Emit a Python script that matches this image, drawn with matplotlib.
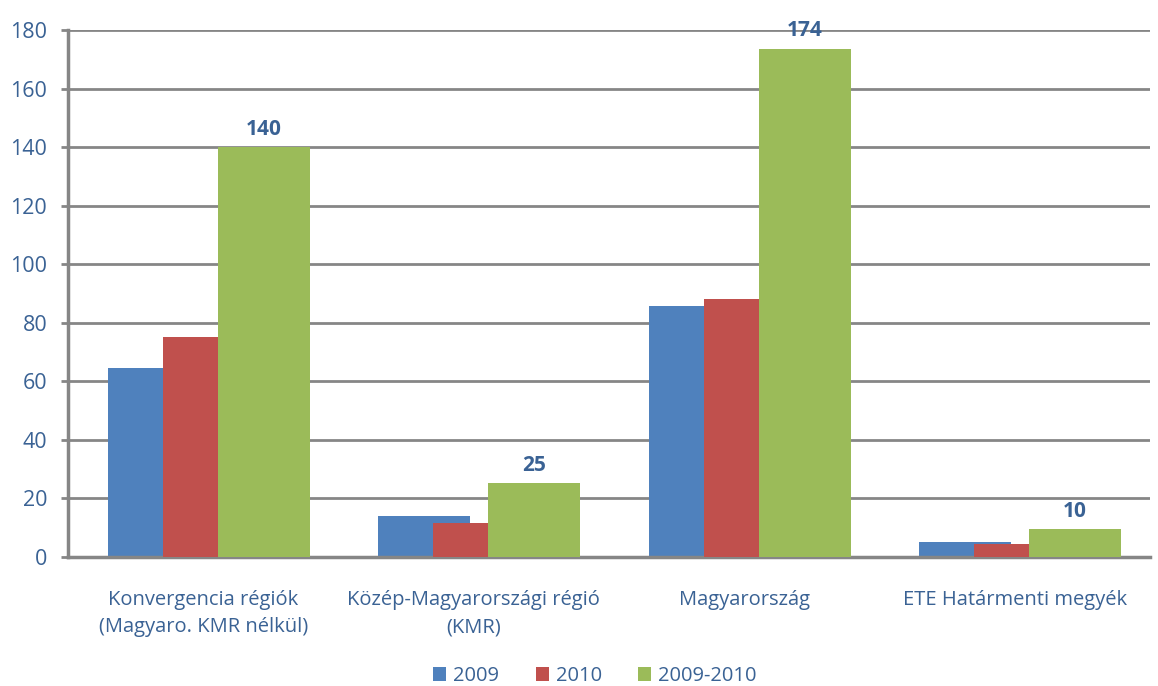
import matplotlib
matplotlib.use("Agg")
import matplotlib.pyplot as plt
import numpy as np

categories = ["Konvergencia régiók\n(Magyaro. KMR nélkül)",
              "Közép-Magyarországi régió\n(KMR)",
              "Magyarország",
              "ETE Határmenti megyék"]
series_names = ["2009", "2010", "2009-2010"]
v2009 = [64.4, 14.0, 85.9, 5.1]
v2010 = [75.0, 11.5, 88.0, 4.6]
v0910 = [140.0, 25.3, 173.6, 9.6]
yticks = [0, 20, 40, 60, 80, 100, 120, 140, 160, 180]

colors = ["#4F81BD", "#C0504D", "#9BBB59"]
txtcol = "#3A6294"
gridcol = "#868686"

plt.rcParams['font.family'] = ['Open Sans', 'DejaVu Sans']

fig = plt.figure(figsize=(11.58, 6.86), dpi=100)
ax = fig.add_axes([68/1158, 1-557/686, (1150-68)/1158, (557-30)/686])

x = np.arange(len(categories))
w = 0.34
step = 0.203
shift = 0.02
data = [v2009, v2010, v0910]
bars = []
for i, (vals, c) in enumerate(zip(data, colors)):
    b = ax.bar(x + shift + (i-1)*step, vals, width=w, color=c, label=series_names[i], zorder=2+i)
    bars.append(b)

for xi, v in zip(x, v0910):
    ax.text(xi + shift + step, v + 2.5, f"{v:.0f}", ha='center', va='bottom',
            fontsize=15, fontweight='bold', color=txtcol, zorder=10)

ax.set_xlim(-0.5, len(categories)-0.5)
ax.set_ylim(0, 180)
ax.set_yticks(yticks)
ax.set_yticklabels([str(t) for t in yticks], fontsize=15.5, color=txtcol)
ax.yaxis.grid(True, color=gridcol, linewidth=2, zorder=0)
ax.set_axisbelow(True)
ax.tick_params(axis='y', length=5, width=2, color=gridcol, pad=10)
ax.tick_params(axis='x', length=0, pad=24)
ax.set_xticks(x)
ax.set_xticklabels(categories, fontsize=14.5, color=txtcol, linespacing=1.45)
for s in ['top', 'right']:
    ax.spines[s].set_visible(False)
for s in ['left', 'bottom']:
    ax.spines[s].set_color(gridcol)
    ax.spines[s].set_linewidth(2.5)

leg = fig.legend(handles=bars, labels=series_names, loc='center',
                 bbox_to_anchor=(595/1158, 1-676/686), ncol=3, frameon=False,
                 fontsize=14.5, handlelength=0.65, handleheight=0.65, handletextpad=0.35,
                 columnspacing=1.8)
for t in leg.get_texts():
    t.set_color(txtcol)

fig.savefig("out.png", dpi=100)
